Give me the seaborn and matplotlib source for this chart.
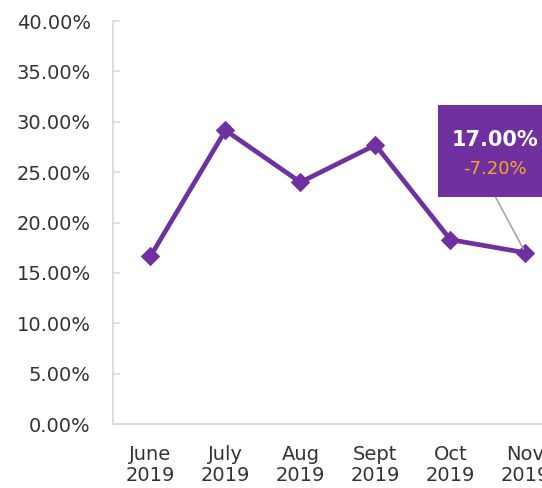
import pandas as pd
import seaborn as sns
import matplotlib.pyplot as plt
from matplotlib.ticker import PercentFormatter
from matplotlib.patches import Rectangle
from matplotlib.transforms import IdentityTransform

# data
months = ["June\n2019", "July\n2019", "Aug\n2019", "Sept\n2019", "Oct\n2019", "Nov\n2019"]
rate = [0.1665, 0.2915, 0.2400, 0.2770, 0.1830, 0.1700]
last_label = "17.00%"
last_change = "-7.20%"

purple = "#7030A0"
grid_grey = "#D9D9D9"
text_col = "#333333"

sns.set_style("white")
plt.rcParams["font.family"] = ["DejaVu Sans"]

df = pd.DataFrame({"month": months, "rate": rate, "pos": range(len(months))})

fig = plt.figure(figsize=(5.42, 4.88), dpi=100)
ax = fig.add_axes([0.2085, 0.1311, 0.830, 0.8258])

sns.lineplot(data=df, x="pos", y="rate", ax=ax, color=purple, lw=3.4,
             marker="D", markersize=9, markeredgecolor=purple, clip_on=False)

ax.set_xlim(-0.5, 5.5)
ax.set_ylim(0, 0.40)
ax.set_yticks([i * 0.05 for i in range(9)])
ax.yaxis.set_major_formatter(PercentFormatter(1.0, decimals=2))
ax.set_xticks(df["pos"])
ax.set_xticklabels(months, linespacing=1.15)
ax.set_xlabel("")
ax.set_ylabel("")

for s in ["top", "right"]:
    ax.spines[s].set_visible(False)
for s in ["left", "bottom"]:
    ax.spines[s].set_color(grid_grey)
    ax.spines[s].set_linewidth(1.3)

ax.tick_params(axis="y", direction="in", length=5, width=1.2, color=grid_grey,
               pad=16, labelsize=14, labelcolor=text_col, left=True)
ax.tick_params(axis="x", length=0, pad=15, labelsize=14, labelcolor=text_col)

# callout on the last point
fig.canvas.draw()
px, py = ax.transData.transform((df["pos"].iloc[-1], rate[-1]))
box = Rectangle((px - 87, py + 56), 116, 92, transform=IdentityTransform(),
                facecolor=purple, edgecolor="none", clip_on=False, zorder=5)
ax.add_patch(box)
ax.annotate("", xy=(df["pos"].iloc[-1], rate[-1]), xytext=(-30, 56),
            textcoords="offset pixels",
            arrowprops=dict(arrowstyle="-", color="#A6A6A6", lw=1.2,
                            shrinkA=0, shrinkB=3), zorder=4)
ax.annotate(last_label, xy=(df["pos"].iloc[-1], rate[-1]), xytext=(-30, 113),
            textcoords="offset pixels", ha="center", va="center",
            color="white", fontsize=15, fontweight="bold", zorder=6)
ax.annotate(last_change, xy=(df["pos"].iloc[-1], rate[-1]), xytext=(-30, 84),
            textcoords="offset pixels", ha="center", va="center",
            color="#F5A623", fontsize=13, zorder=6)

fig.savefig("out.png", dpi=100)
